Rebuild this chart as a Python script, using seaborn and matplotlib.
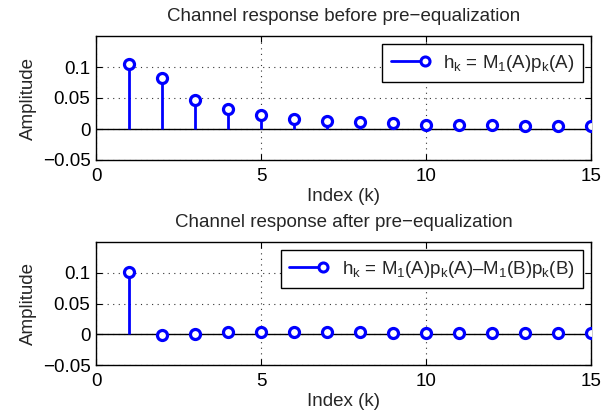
import numpy as np
import pandas as pd
import matplotlib
matplotlib.use("Agg")
import matplotlib.pyplot as plt
import seaborn as sns
from matplotlib.lines import Line2D
from matplotlib.legend_handler import HandlerBase

# Data
k = list(range(1, 16))
h_before = [0.105, 0.083, 0.047, 0.032, 0.022, 0.0165, 0.0137, 0.012, 0.0093,
            0.0072, 0.0067, 0.006, 0.0054, 0.0054, 0.0044]
h_after = [0.102, -0.0005, -0.0003, 0.0038, 0.0043, 0.004, 0.003, 0.003, 0.0027,
           0.0027, 0.0027, 0.0027, 0.0027, 0.0027, 0.0027]
titles = ["Channel response before pre\u2212equalization",
          "Channel response after pre\u2212equalization"]
labels = [r"$\mathrm{h_k}$ = $\mathrm{M_1}$(A)$\mathrm{p_k}$(A)",
          r"$\mathrm{h_k}$ = $\mathrm{M_1}$(A)$\mathrm{p_k}$(A)" + "\u2013"
          + r"$\mathrm{M_1}$(B)$\mathrm{p_k}$(B)"]
xticks = [0, 5, 10, 15]
yticks = [-0.05, 0, 0.05, 0.1]

sns.set_theme(style="ticks")
plt.rcParams["font.family"] = ["Liberation Sans", "DejaVu Sans"]
plt.rcParams["mathtext.fontset"] = "custom"
plt.rcParams["mathtext.rm"] = "Liberation Sans"
plt.rcParams["mathtext.it"] = "Liberation Sans:italic"
plt.rcParams["axes.unicode_minus"] = True

FS = 13.5
BLUE = "#0000ff"


class StemHandler(HandlerBase):
    def create_artists(self, legend, orig_handle, xdescent, ydescent,
                       width, height, fontsize, trans):
        y = height / 2 - ydescent
        line = Line2D([-xdescent, width - xdescent], [y, y], color=BLUE, lw=2)
        mk = Line2D([width - xdescent], [y], marker="o", mfc="white",
                    mec=BLUE, mew=2.2, ms=6.5, ls="none")
        line.set_transform(trans)
        mk.set_transform(trans)
        return [line, mk]


fig = plt.figure(figsize=(6.1, 4.15), dpi=100)
W, H = 610, 415
left, right = 96, 591
boxes = [(36, 160), (242, 365)]

for i, (data, title, lab) in enumerate(zip([h_before, h_after], titles, labels)):
    top, bot = boxes[i]
    ax = fig.add_axes([left / W, 1 - bot / H, (right - left) / W, (bot - top) / H])
    df = pd.DataFrame({"k": k, "h": data})
    ax.axhline(0, color="black", lw=1, zorder=1)
    ax.vlines(df["k"], 0, df["h"], color=BLUE, lw=2, zorder=2)
    sns.scatterplot(data=df, x="k", y="h", ax=ax, marker="o", s=52,
                    facecolor="white", edgecolor=BLUE, linewidth=2.3, zorder=3,
                    legend=False)
    ax.set_xlim(0, 15)
    ax.set_ylim(-0.05, 0.15)
    ax.set_xticks(xticks)
    ax.set_yticks(yticks)
    ax.set_yticklabels(["\u22120.05", "0", "0.05", "0.1"])
    ax.grid(True, linestyle=(0, (1, 4)), color="#333333", lw=0.8)
    ax.tick_params(direction="in", top=True, right=True, labelsize=FS,
                   length=4, width=0.8, colors="black")
    ax.tick_params(axis="x", pad=6)
    ax.tick_params(axis="y", pad=4)
    for s in ax.spines.values():
        s.set_linewidth(1.0)
        s.set_color("black")
    ax.set_title(title, fontsize=FS, pad=11)
    ax.set_xlabel("Index (k)", fontsize=FS, labelpad=2)
    ax.set_ylabel("Amplitude", fontsize=FS, labelpad=4)
    h = Line2D([], [])
    leg = ax.legend([h], [lab], handler_map={Line2D: StemHandler()},
                    loc="upper right", fontsize=FS, fancybox=False,
                    framealpha=1, edgecolor="black", handlelength=1.8,
                    borderaxespad=0.43, handletextpad=1.0, borderpad=0.45)
    leg.get_frame().set_linewidth(1.0)

fig.savefig("out.png", dpi=100)
